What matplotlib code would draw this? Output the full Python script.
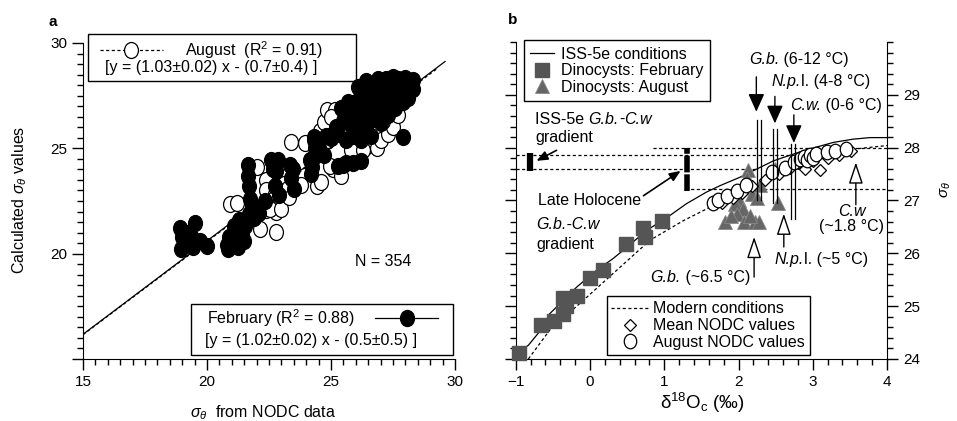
import numpy as np
import matplotlib
matplotlib.use("Agg")
import matplotlib.pyplot as plt
from matplotlib.path import Path
from matplotlib.transforms import Affine2D
from matplotlib.lines import Line2D
from matplotlib.patches import Rectangle
from matplotlib.ticker import MultipleLocator

plt.rcParams["font.family"] = ["Liberation Sans", "DejaVu Sans"]
plt.rcParams["mathtext.fontset"] = "custom"
plt.rcParams["mathtext.rm"] = "Liberation Sans"
plt.rcParams["mathtext.it"] = "Liberation Sans:italic"
plt.rcParams["mathtext.bf"] = "Liberation Sans:bold"
plt.rcParams["font.size"] = 11

FS = 11.5  # annotation / legend text size

# ---------------- panel a data ----------------
# February (filled)
feb_x = [18.9, 19.0, 18.95, 19.2, 19.35, 19.5, 19.7, 20.0, 19.45, 19.15,
         20.8, 20.9, 21.05, 21.2, 21.3, 21.4, 21.55, 21.7, 21.9, 22.0, 21.1, 20.85, 21.5, 22.1, 21.25,
         21.65, 21.65, 21.7, 21.75, 21.8,
         22.35, 22.6, 22.75, 22.8, 22.9, 23.35, 23.4, 23.5, 22.65, 23.45,
         24.3, 24.3, 24.2, 24.25, 24.15, 24.35, 22.87,
         25.3, 25.6, 25.9, 26.2, 25.5,
         27.9,
         24.8, 25.0, 25.2, 25.3, 25.5, 25.6, 25.6, 25.8, 25.8, 25.9, 26.0, 26.1, 26.2, 26.2,
         26.3, 26.4, 26.4, 26.5, 26.6, 26.7, 26.7, 26.8, 26.9, 27.0, 27.0, 27.1, 27.2, 27.3,
         27.3, 27.4, 27.5, 27.6, 27.6, 27.7, 27.8, 27.9, 27.9, 28.0, 28.1, 28.2, 28.3, 28.3,
         28.1, 26.0, 26.6, 27.2, 25.4, 25.7, 26.1, 26.4, 26.9, 27.5, 28.0, 24.5, 24.7, 24.3]
feb_y = [21.2, 20.8, 20.2, 20.5, 20.85, 21.45, 20.6, 20.35, 20.3, 21.0,
         20.4, 20.8, 21.0, 20.5, 21.6, 20.9, 21.3, 21.9, 21.7, 22.0, 21.3, 20.2, 20.6, 21.95, 20.3,
         24.2, 23.7, 23.2, 22.6, 22.3,
         22.5, 24.45, 23.2, 23.9, 22.8, 24.2, 23.6, 23.05, 24.0, 24.0,
         25.4, 24.6, 23.8, 24.1, 24.45, 25.0, 24.44,
         24.15, 24.3, 24.3, 24.4, 24.2,
         25.55,
         25.6, 25.5, 26.0, 25.7, 26.3, 25.4, 26.7, 26.1, 27.1, 25.6, 26.5, 25.9, 27.0, 25.4,
         26.3, 27.5, 26.0, 26.8, 25.6, 27.2, 26.4, 27.9, 26.9, 27.5, 26.2, 28.1, 27.0, 27.6,
         26.6, 28.0, 27.3, 27.8, 26.9, 28.3, 27.5, 28.0, 27.2, 28.2, 27.7, 28.1, 28.25, 27.8,
         27.4, 27.2, 28.0, 28.3, 26.9, 27.2, 27.9, 28.2, 28.3, 28.4, 28.35, 25.0, 24.7, 25.55]

# August (open)
aug_x = [20.93, 21.2, 22.15, 22.8, 22.4, 22.8,
         22.0, 22.4, 22.4, 22.75, 22.95, 22.55, 23.0, 23.8, 23.3, 23.1,
         23.4, 23.95, 24.45, 24.6, 25.1, 25.4, 24.95,
         24.55, 24.7, 24.85, 25.15, 25.4, 25.0, 25.7, 25.9, 24.9,
         26.45, 26.7, 26.85, 27.0, 27.3, 27.5, 27.25, 27.1, 25.8, 26.3, 27.7,
         26.0, 26.5, 27.0, 27.5, 28.0, 28.2, 26.2, 27.4, 25.5]
aug_y = [22.35, 22.4, 21.15, 21.05, 22.05, 22.0,
         24.1, 23.5, 23.0, 22.85, 22.55, 22.1, 22.1, 23.25, 22.7, 23.3,
         25.3, 25.25, 23.2, 23.4, 24.0, 23.7, 24.15,
         25.8, 26.25, 26.8, 26.8, 26.8, 26.5, 27.1, 27.15, 25.4,
         25.1, 25.25, 25.0, 25.4, 25.7, 26.0, 26.65, 26.3, 24.9, 24.9, 26.6,
         26.0, 26.5, 27.0, 27.5, 27.9, 28.2, 26.8, 27.2, 25.7]

# regression lines
fit_feb_x = [15.0, 29.6]
fit_feb_y = [16.17, 29.12]
fit_aug_x = [15.0, 29.3]
fit_aug_y = [16.15, 28.8]

# ---------------- panel b data ----------------
iss_x = [-0.89, -0.83, -0.66, -0.54, -0.18, 0.09, 0.31, 0.45, 0.76, 1.08,
         1.30, 1.57, 1.75, 2.02, 2.47, 2.87, 3.28, 3.54, 3.77, 4.0]
iss_y = [24.2, 24.26, 24.55, 24.86, 25.36, 25.68, 25.9, 26.06, 26.43, 26.72,
         26.94, 27.16, 27.28, 27.44, 27.75, 27.94, 28.1, 28.16, 28.19, 28.19]

mod_x = [-0.83, -0.54, -0.09, 0.36, 0.81, 1.26, 1.57, 1.8, 2.2, 2.6, 3.0, 3.3, 3.54, 4.0]
mod_y = [24.0, 24.55, 25.11, 25.68, 26.25, 26.62, 26.84, 27.0, 27.28, 27.55, 27.78, 27.9, 27.97, 28.04]

sq_x = [-0.95, -0.66, -0.49, -0.37, -0.32, -0.36, -0.17, 0.0, 0.18, 0.49, 0.72, 0.74, 0.97]
sq_y = [24.12, 24.65, 24.72, 25.16, 25.0, 24.86, 25.2, 25.54, 25.68, 26.18, 26.47, 26.31, 26.62]

tri_x = [2.13, 2.49, 2.11, 2.06, 2.29, 2.18, 2.25, 2.0, 2.53, 1.95, 2.06, 1.98, 1.82, 2.07, 2.22, 2.27, 2.15, 1.9]
tri_y = [27.57, 27.6, 27.42, 27.3, 27.3, 27.12, 27.05, 27.0, 26.95, 26.93, 26.84, 26.75, 26.59, 26.6, 26.6, 26.6, 26.7, 26.7]

dia_x = [1.78, 1.92, 2.05, 2.18, 2.35, 2.55, 2.69, 2.8, 2.9, 3.0, 3.1, 3.2, 3.35, 3.52]
dia_y = [26.95, 27.05, 27.15, 27.27, 27.38, 27.5, 27.62, 27.7, 27.6, 27.75, 27.58, 27.8, 27.86, 27.94]

circ_x = [1.66, 1.73, 1.84, 1.98, 2.1, 2.45, 2.62, 2.75, 2.83, 2.88, 2.92, 2.96, 3.0, 3.05, 3.19, 3.30, 3.45]
circ_y = [26.95, 27.0, 27.08, 27.18, 27.3, 27.53, 27.62, 27.72, 27.78, 27.82, 27.76, 27.86, 27.8, 27.88, 27.91, 27.94, 27.97]

# paired vertical lines (x pair, y top, y bottom)
gb_pair = [2.25, 2.30]
gb_span = [28.53, 27.0]
npl_pair = [2.465, 2.515]
npl_span = [28.35, 26.95]
cw_pair = [2.71, 2.76]
cw_span = [28.07, 26.65]

# horizontal gradient lines
iss_hi_x, iss_hi_y = [-1.0, 2.71], 27.86
iss_lo_x, iss_lo_y = [-1.0, 2.26], 27.60
lh_hi_x, lh_hi_y = [0.85, 4.0], 27.99
lh_lo_x, lh_lo_y = [1.28, 4.0], 27.22

iss_bar_x, iss_bar_y = -0.81, [27.56, 27.90]
lh_bar_x, lh_bar_y = 1.30, [27.17, 28.0]

# marker shapes
ellipse_a = Affine2D().scale(1.0, 1.15).transform_path(Path.unit_circle())
ellipse_b = Affine2D().scale(1.0, 1.17).transform_path(Path.unit_circle())


def mixed_text(ax, x, y, parts, fs=FS):
    """Write a run of (string, italic) pieces side by side, starting at x."""
    txt, it = parts[0]
    t = ax.text(x, y, txt, style="italic" if it else "normal", ha="left", va="center", fontsize=fs)
    for txt, it in parts[1:]:
        t = ax.annotate(txt, xy=(1, 0.5), xycoords=t, ha="left", va="center",
                        style="italic" if it else "normal", fontsize=fs)
    return t


fig = plt.figure(figsize=(9.57, 4.21), dpi=100)
ax_a = fig.add_axes([0.0867, 0.1473, 0.3887, 0.7506])
ax_b = fig.add_axes([0.5389, 0.1473, 0.388, 0.753])

# ---------------- panel a ----------------
ax_a.plot(aug_x, aug_y, ls="none", marker=ellipse_a, ms=11.5, mfc="white", mec="black", mew=0.9, zorder=2)
ax_a.plot(fit_feb_x, fit_feb_y, color="black", lw=0.9, zorder=3)
ax_a.plot(fit_aug_x, fit_aug_y, color="black", lw=0.9, ls=(0, (2.5, 2)), zorder=3)
ax_a.plot(feb_x, feb_y, ls="none", marker=ellipse_a, ms=11.5, mfc="black", mec="black", mew=0.9, zorder=4)

ax_a.set_xlim(15, 30)
ax_a.set_ylim(15, 30)
ax_a.set_xticks([15, 20, 25, 30])
ax_a.set_yticks([15, 20, 25, 30])
ax_a.set_yticklabels(["", "20", "25", "30"])
ax_a.xaxis.set_minor_locator(MultipleLocator(0.5))
ax_a.yaxis.set_minor_locator(MultipleLocator(0.5))
for s in ["top", "right"]:
    ax_a.spines[s].set_visible(False)
ax_a.tick_params(which="major", direction="out", length=8, width=1, labelsize=11)
ax_a.tick_params(which="minor", direction="out", length=4.5, width=1)
ax_a.set_xlabel(r"$\sigma_\theta$  from NODC data", fontsize=FS)
ax_a.xaxis.set_label_coords(0.484, -0.14)
ax_a.set_ylabel(r"Calculated $\sigma_\theta$ values", fontsize=FS)
ax_a.yaxis.set_label_coords(-0.145, 0.503)

ax_a.text(27.1, 19.65, "N = 354", ha="center", va="center", fontsize=FS)

# custom legend boxes
tr = ax_a.transAxes
ax_a.add_patch(Rectangle((0.0134, 0.880), 0.7206, 0.148, transform=tr, fill=False,
                         ec="black", lw=1, clip_on=False, zorder=6))
ax_a.add_line(Line2D([0.046, 0.215], [0.978, 0.978], transform=tr, color="black", lw=0.9,
                     ls=(0, (2.5, 2)), clip_on=False, zorder=6))
ax_a.add_line(Line2D([0.129], [0.978], transform=tr, ls="none", marker=ellipse_a, ms=11.5,
                     mfc="white", mec="black", mew=0.9, clip_on=False, zorder=7))
ax_a.text(0.274, 0.978, r"August  (R$^2$ = 0.91)", transform=tr, ha="left", va="center", fontsize=FS)
ax_a.text(0.059, 0.921, "[y = (1.03\u00b10.02) x - (0.7\u00b10.4) ]", transform=tr,
          ha="left", va="center", fontsize=FS)

ax_a.add_patch(Rectangle((0.290, 0.0127), 0.705, 0.161, transform=tr, fill=False,
                         ec="black", lw=1, clip_on=False, zorder=6))
ax_a.add_line(Line2D([0.785, 0.954], [0.130, 0.130], transform=tr, color="black", lw=0.9,
                     clip_on=False, zorder=6))
ax_a.add_line(Line2D([0.871], [0.130], transform=tr, ls="none", marker=ellipse_a, ms=11.5,
                     mfc="black", mec="black", clip_on=False, zorder=7))
ax_a.text(0.333, 0.130, r"February (R$^2$ = 0.88)", transform=tr, ha="left", va="center", fontsize=FS)
ax_a.text(0.328, 0.057, "[y = (1.02\u00b10.02) x - (0.5\u00b10.5) ]", transform=tr,
          ha="left", va="center", fontsize=FS)

# ---------------- panel b ----------------
dash = (0, (2.5, 2))
ax_b.plot(iss_x, iss_y, color="black", lw=0.9, zorder=3)
ax_b.plot(mod_x, mod_y, color="black", lw=0.9, ls=dash, zorder=3)

ax_b.plot(iss_hi_x, [iss_hi_y] * 2, color="black", lw=0.9, ls=dash, zorder=2)
ax_b.plot(iss_lo_x, [iss_lo_y] * 2, color="black", lw=0.9, ls=dash, zorder=2)
ax_b.plot(lh_hi_x, [lh_hi_y] * 2, color="black", lw=0.9, ls=dash, zorder=2)
ax_b.plot(lh_lo_x, [lh_lo_y] * 2, color="black", lw=0.9, ls=dash, zorder=2)

ax_b.plot([iss_bar_x] * 2, iss_bar_y, color="black", lw=4.5, solid_capstyle="butt", zorder=4)
ax_b.plot([lh_bar_x] * 2, lh_bar_y, color="black", lw=4, ls=(0, (3, 0.35)), zorder=4)

ax_b.plot(tri_x, tri_y, ls="none", marker="^", ms=10, mfc="#666666", mec="#888888", mew=0.6, zorder=4)
ax_b.plot(sq_x, sq_y, ls="none", marker="s", ms=9.5, mfc="#555555", mec="#555555", zorder=4, clip_on=False)
ax_b.plot(dia_x, dia_y, ls="none", marker="D", ms=6.5, mfc="white", mec="black", mew=0.9, zorder=5)
ax_b.plot(circ_x, circ_y, ls="none", marker=ellipse_b, ms=10.5, mfc="white", mec="black", mew=0.9, zorder=5)

for pair, span in [(gb_pair, gb_span), (npl_pair, npl_span), (cw_pair, cw_span)]:
    for xv in pair:
        ax_b.plot([xv, xv], span, color="black", lw=0.9, zorder=6)

# filled arrows pointing down
solid_arrow = dict(arrowstyle="-|>,head_length=1.0,head_width=0.45", fc="black", ec="black",
                   lw=1, shrinkA=0, shrinkB=0)
ax_b.annotate("", xy=(2.24, 28.68), xytext=(2.24, 29.34), arrowprops=solid_arrow)
ax_b.annotate("", xy=(2.49, 28.46), xytext=(2.49, 28.97), arrowprops=solid_arrow)
ax_b.annotate("", xy=(2.745, 28.09), xytext=(2.745, 28.62), arrowprops=solid_arrow)

# open arrows pointing up
open_arrow = dict(arrowstyle="-|>,head_length=1.2,head_width=0.4", fc="white", ec="black",
                  lw=1, shrinkA=0, shrinkB=0)
ax_b.annotate("", xy=(2.21, 26.31), xytext=(2.21, 25.55), arrowprops=open_arrow)
ax_b.annotate("", xy=(2.61, 26.75), xytext=(2.61, 26.12), arrowprops=open_arrow)
ax_b.annotate("", xy=(3.58, 27.72), xytext=(3.58, 26.92), arrowprops=open_arrow)

# small arrows to the gradient bars
small_arrow = dict(arrowstyle="-|>,head_length=0.6,head_width=0.25", fc="black", ec="black",
                   lw=1.2, shrinkA=0, shrinkB=0)
ax_b.annotate("", xy=(-0.72, 27.75), xytext=(-0.45, 27.95), arrowprops=small_arrow)
ax_b.annotate("", xy=(1.22, 27.56), xytext=(0.72, 27.09), arrowprops=small_arrow)

mixed_text(ax_b, -0.74, 28.53, [("ISS-5e ", False), ("G.b.", True), ("-", False), ("C.w", True)])
ax_b.text(-0.74, 28.19, "gradient", ha="left", va="center", fontsize=FS)
ax_b.text(-0.70, 27.0, "Late Holocene", ha="left", va="center", fontsize=FS)
ax_b.text(-0.72, 26.55, "G.b.-C.w", style="italic", ha="left", va="center", fontsize=FS)
ax_b.text(-0.72, 26.17, "gradient", ha="left", va="center", fontsize=FS)
mixed_text(ax_b, 2.14, 29.66, [("G.b.", True), (" (6-12 \u00b0C)", False)])
mixed_text(ax_b, 2.44, 29.26, [("N.p.", True), ("l. (4-8 \u00b0C)", False)])
mixed_text(ax_b, 2.69, 28.80, [("C.w.", True), (" (0-6 \u00b0C)", False)])
mixed_text(ax_b, 0.81, 25.55, [("G.b.", True), (" (~6.5 \u00b0C)", False)])
mixed_text(ax_b, 2.49, 25.88, [("N.p.", True), ("l. (~5 \u00b0C)", False)])
ax_b.text(3.52, 26.80, "C.w", style="italic", ha="center", va="center", fontsize=FS)
ax_b.text(3.52, 26.50, "(~1.8 \u00b0C)", ha="center", va="center", fontsize=FS)

ax_b.set_xlim(-1, 4)
ax_b.set_ylim(24, 30)
ax_b.set_xticks([-1, 0, 1, 2, 3, 4])
ax_b.set_xticklabels(["\u22121", "0", "1", "2", "3", "4"])
ax_b.set_yticks([24, 25, 26, 27, 28, 29])
ax_b.xaxis.set_minor_locator(MultipleLocator(0.2))
ax_b.yaxis.set_minor_locator(MultipleLocator(0.2))
ax_b.spines["top"].set_visible(False)
ax_b.yaxis.set_ticks_position("both")
ax_b.tick_params(axis="y", labelleft=False, labelright=True)
ax_b.tick_params(which="major", direction="out", length=8, width=1, labelsize=11)
ax_b.tick_params(which="minor", direction="out", length=4.5, width=1)
ax_b.set_xlabel("\u03b4$^{18}$O$_\\mathrm{c}$ (\u2030)", fontsize=13.5)
ax_b.xaxis.set_label_coords(0.504, -0.10)
ax_b.yaxis.set_label_position("right")
ax_b.set_ylabel(r"$\sigma_\theta$", fontsize=11, rotation=90)
ax_b.yaxis.set_label_coords(1.138, 0.533)

h_top = [Line2D([], [], color="black", lw=0.9),
         Line2D([], [], ls="none", marker="s", ms=9.5, mfc="#555555", mec="#555555"),
         Line2D([], [], ls="none", marker="^", ms=10, mfc="#666666", mec="#888888", mew=0.6)]
leg1 = ax_b.legend(h_top, ["ISS-5e conditions", "Dinocysts: February", "Dinocysts: August"],
                   loc="upper left", bbox_to_anchor=(0.022, 1.005), borderaxespad=0,
                   fancybox=False, edgecolor="black", framealpha=1, fontsize=FS,
                   handlelength=1.5, handletextpad=0.45, labelspacing=0.1, borderpad=0.4)
leg1.get_frame().set_linewidth(1)
ax_b.add_artist(leg1)

h_bot = [Line2D([], [], color="black", lw=0.9, ls=dash),
         Line2D([], [], ls="none", marker="D", ms=6.5, mfc="white", mec="black", mew=0.9),
         Line2D([], [], ls="none", marker=ellipse_b, ms=10.5, mfc="white", mec="black", mew=0.9)]
leg2 = ax_b.legend(h_bot, ["Modern conditions", "Mean NODC values", "August NODC values"],
                   loc="lower left", bbox_to_anchor=(0.245, 0.013), borderaxespad=0,
                   fancybox=False, edgecolor="black", framealpha=1, fontsize=FS,
                   handlelength=2.3, handletextpad=0.33, labelspacing=0.12, borderpad=0.3)
leg2.get_frame().set_linewidth(1)

fig.text(0.0554, 0.9477, "a", fontweight="bold", fontsize=11, ha="center", va="center")
fig.text(0.536, 0.952, "b", fontweight="bold", fontsize=11, ha="center", va="center")

fig.savefig("out.png", dpi=100)
